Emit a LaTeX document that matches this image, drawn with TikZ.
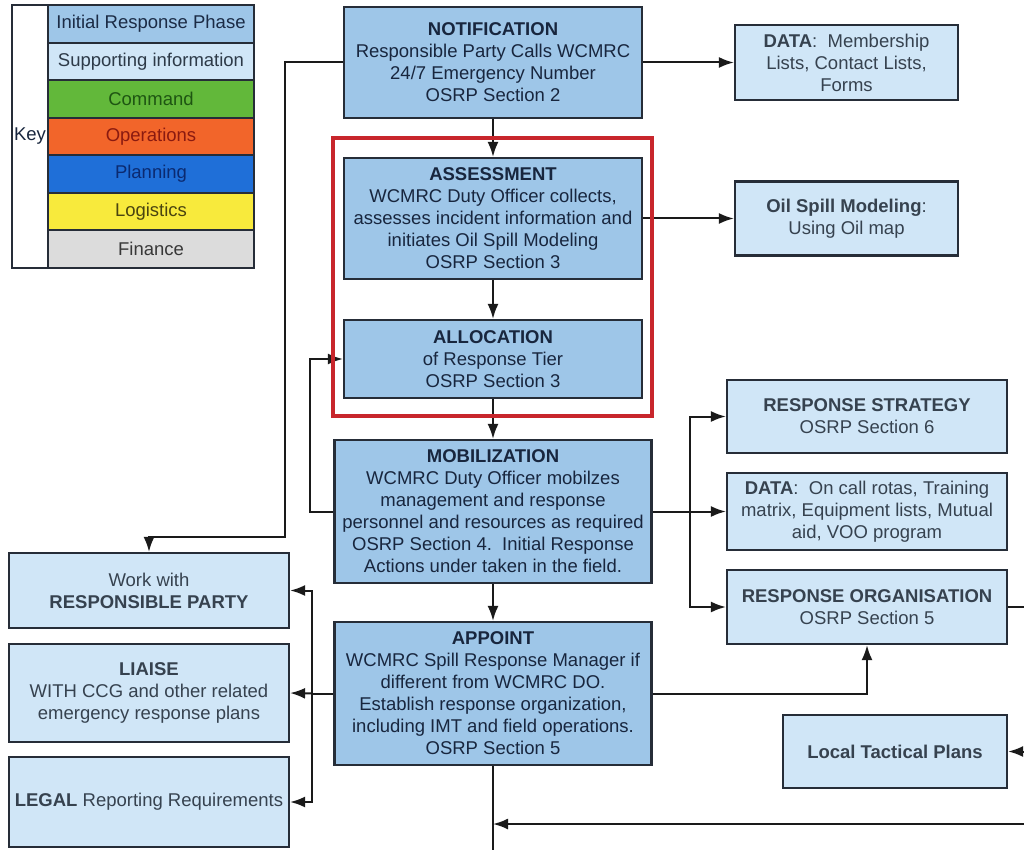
\documentclass[tikz,border=0pt]{standalone}
\usepackage{fontspec}
\setmainfont{Liberation Sans}
\usetikzlibrary{arrows.meta}

\definecolor{boxline}{HTML}{262D38}
\definecolor{linkcol}{HTML}{1A1A1A}
\definecolor{phasefill}{HTML}{9EC6E8}
\definecolor{infofill}{HTML}{D0E6F7}
\definecolor{phasetext}{HTML}{18263E}
\definecolor{infotext}{HTML}{36424F}
\definecolor{frame}{HTML}{C8262C}

\newcommand\boxfont{\fontsize{18.5}{22}\selectfont}

\tikzset{
  phase/.style={draw=boxline, line width=2.2pt, fill=phasefill, text=phasetext,
    align=center, inner sep=0pt, font=\boxfont},
  info/.style={phase, fill=infofill, text=infotext},
  keyrow/.style={draw=boxline, line width=1.8pt, minimum width=206pt,
    minimum height=37.5pt, inner sep=0pt, font=\boxfont},
  wire/.style={draw=linkcol, line width=2pt},
  link/.style={wire, -{Latex[length=15pt,width=11pt]}},
}

\begin{document}
\begin{tikzpicture}[x=1pt,y=-1pt]
  \useasboundingbox[fill=white] (0,0) rectangle (1024,850);

  % Key
  \draw[boxline,line width=1.8pt] (12,5) rectangle (254,268);
  \node[font=\boxfont,text=phasetext] (keylbl) at (30,136.5) {Key};
  \foreach \lbl/\fc/\tc [count=\i] in {
      Initial Response Phase/9EC6E8/1B2B45,
      Supporting information/D0E6F7/2D3A48,
      Command/62B83A/1E5512,
      Operations/F2652A/8A1A10,
      Planning/1F6FD8/0B2A70,
      Logistics/F8EA3C/4A4410,
      Finance/DCDCDC/383838}{
    \definecolor{kfill}{HTML}{\fc}
    \definecolor{ktext}{HTML}{\tc}
    \node[keyrow,fill=kfill,text=ktext] (key\i) at (151,{24+37.5*(\i-1)}) {\lbl};
  }

  % Initial response phase
  \node[phase,minimum width=298pt,minimum height=111pt] (notif) at (493,62.5)
    {\textbf{NOTIFICATION}\\Responsible Party Calls WCMRC\\24/7 Emergency Number\\OSRP Section 2};
  \node[phase,minimum width=298pt,minimum height=121pt] (assess) at (493,218.5)
    {\textbf{ASSESSMENT}\\WCMRC Duty Officer collects,\\assesses incident information and\\initiates Oil Spill Modeling\\OSRP Section 3};
  \node[phase,minimum width=298pt,minimum height=78pt] (alloc) at (493,359)
    {\textbf{ALLOCATION}\\of Response Tier\\OSRP Section 3};
  \node[phase,minimum width=317pt,minimum height=143pt] (mobil) at (493,511.5)
    {\textbf{MOBILIZATION}\\WCMRC Duty Officer mobilzes\\management and response\\personnel and resources as required\\OSRP Section 4.\ \ Initial Response\\Actions under taken in the field.};
  \node[phase,minimum width=317pt,minimum height=143pt] (appoint) at (493,693.5)
    {\textbf{APPOINT}\\WCMRC Spill Response Manager if\\different from WCMRC DO.\\Establish response organization,\\including IMT and field operations.\\OSRP Section 5};

  % Supporting information
  \node[info,minimum width=223pt,minimum height=75pt] (data1) at (846.5,62.5)
    {\textbf{DATA}:\ \ Membership\\Lists, Contact Lists,\\Forms};
  \node[info,minimum width=223pt,minimum height=74pt] (oil) at (846.5,218.5)
    {\textbf{Oil Spill Modeling}:\\Using Oil map};
  \node[info,minimum width=280pt,minimum height=73pt] (strat) at (867,416.5)
    {\textbf{RESPONSE STRATEGY}\\OSRP Section 6};
  \node[info,minimum width=280pt,minimum height=77pt] (data2) at (867,511.5)
    {\textbf{DATA}:\ \ On call rotas, Training\\matrix, Equipment lists, Mutual\\aid, VOO program};
  \node[info,minimum width=280pt,minimum height=74pt] (resorg) at (867,607)
    {\textbf{RESPONSE ORGANISATION}\\OSRP Section 5};
  \node[info,minimum width=224pt,minimum height=73pt] (tactical) at (895,751.5)
    {\textbf{Local Tactical Plans}};
  \node[info,minimum width=280pt,minimum height=75pt] (work) at (149,590.5)
    {Work with\\\textbf{RESPONSIBLE PARTY}};
  \node[info,minimum width=280pt,minimum height=98pt] (liaise) at (149,693)
    {\textbf{LIAISE}\\WITH CCG and other related\\emergency response plans};
  \node[info,minimum width=280pt,minimum height=90pt] (legal) at (149,802)
    {\textbf{LEGAL} Reporting Requirements};

  % Free ends at the cut edges
  \coordinate (hub) at (690,511.5);
  \coordinate (fan) at (312,693.5);
  \coordinate (orgout) at (1024,607);
  \coordinate (tacin) at (1024,751.5);
  \coordinate (loopin) at (1024,824);
  \coordinate (loopend) at (493,824);
  \coordinate (down) at (493,850);

  % Connectors
  \draw[link] (notif) -- (assess);
  \draw[link] (assess) -- (alloc);
  \draw[link] (alloc) -- (mobil);
  \draw[link] (mobil) -- (appoint);
  \draw[link] (notif.east) -- (data1.west);
  \draw[link] (assess.east) -- (oil.west);
  \draw[link] (notif.west) -| (285,537) -| (work.north);
  \draw[link] (mobil.west) -- (310,511.5) |- (alloc.west);
  \draw[link] (mobil.east) -- (data2.west);
  \draw[link] (hub) |- (strat.west);
  \draw[link] (hub) |- (resorg.west);
  \draw[wire] (appoint.west) -- (fan);
  \draw[link] (fan) |- (work.east);
  \draw[link] (fan) -- (liaise.east);
  \draw[link] (fan) |- (legal.east);
  \draw[link] (appoint.east) -| (resorg.south);
  \draw[wire] (resorg.east) -- (orgout);
  \draw[link] (tacin) -- (tactical.east);
  \draw[wire] (appoint.south) -- (down);
  \draw[link] (loopin) -- (loopend);

  % Red frame round assessment and allocation
  \draw[frame,line width=4pt] (333,138) rectangle (652,416);
\end{tikzpicture}
\end{document}
